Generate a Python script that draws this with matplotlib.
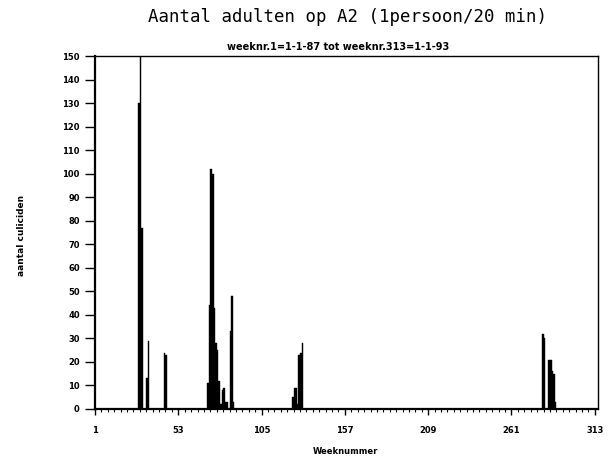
import numpy as np
import matplotlib
matplotlib.use("Agg")
import matplotlib.pyplot as plt

# ---- data ----
n_weeks = 313
nonzero_weeks = [28, 29, 30, 33, 34, 44, 45,
                 71, 72, 73, 74, 75, 76, 77, 78, 79, 80, 81, 82, 83, 85, 86, 87,
                 124, 125, 126, 127, 128, 129, 130,
                 280, 281, 284, 285, 286, 287, 288]
nonzero_values = [130, 155, 77, 13, 29, 24, 23,
                  11, 44, 102, 100, 43, 28, 25, 12, 2, 8, 9, 3, 3, 33, 48, 3,
                  5, 9, 9, 2, 23, 24, 28,
                  32, 30, 21, 21, 16, 15, 3]
xtick_values = [1, 53, 105, 157, 209, 261, 313]
ytick_values = list(range(0, 151, 10))

title = "Aantal adulten op A2 (1persoon/20 min)"
subtitle = "weeknr.1=1-1-87 tot weeknr.313=1-1-93"
xlabel = "Weeknummer"
ylabel = "aantal culiciden"

weeks = np.arange(1, n_weeks + 1)
values = np.zeros(n_weeks)
for w, v in zip(nonzero_weeks, nonzero_values):
    values[w - 1] = v

fig = plt.figure(figsize=(6.13, 4.59), dpi=100)
ax = fig.add_axes([95 / 613, 1 - 409 / 459, 503 / 613, (409 - 56) / 459])

ax.bar(weeks, values, width=1.0, align="edge", color="black",
       edgecolor="black", linewidth=0.3)
ax.set_xlim(1, 315)
ax.set_ylim(0, 150)

ax.set_xticks(xtick_values)
ax.set_xticklabels([str(v) for v in xtick_values], fontsize=6, fontweight="bold")
ax.set_xticks(np.arange(1, 314, 4), minor=True)
ax.set_yticks(ytick_values)
ax.set_yticklabels([str(v) for v in ytick_values], fontsize=6, fontweight="bold")
ax.tick_params(axis="y", direction="out", length=7, width=1.0, pad=4)
ax.tick_params(axis="x", which="major", direction="out", length=4, width=1.0, pad=8)
ax.tick_params(axis="x", which="minor", direction="out", length=2, width=0.8)

for side in ["left", "bottom"]:
    ax.spines[side].set_linewidth(1.6)
for side in ["top", "right"]:
    ax.spines[side].set_linewidth(1.0)

fig.text(348 / 613, 1 - 17 / 459, title, ha="center", va="center",
         fontsize=12.5, family="DejaVu Sans Mono")
fig.text(338 / 613, 1 - 47 / 459, subtitle, ha="center", va="center",
         fontsize=7, fontweight="bold")
fig.text(345 / 613, 1 - 452 / 459, xlabel, ha="center", va="center",
         fontsize=6, fontweight="bold")
fig.text(22 / 613, 1 - 235 / 459, ylabel, ha="center", va="center",
         fontsize=6.5, fontweight="bold", rotation=90)

fig.savefig("out.png", dpi=100)
